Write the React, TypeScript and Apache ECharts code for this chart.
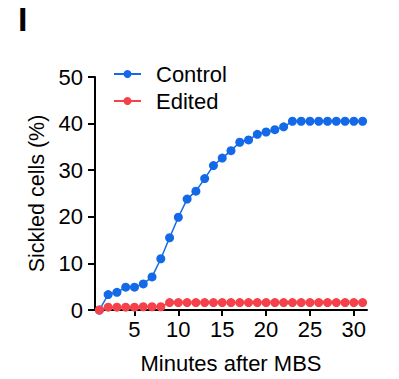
import React, { useEffect, useRef } from "react";
import * as echarts from "echarts";

const minutes = [1, 2, 3, 4, 5, 6, 7, 8, 9, 10, 11, 12, 13, 14, 15, 16, 17, 18, 19, 20, 21, 22, 23, 24, 25, 26, 27, 28, 29, 30, 31];
const controlValues = [0, 3.3, 3.8, 4.9, 4.9, 5.6, 7.1, 11.0, 15.5, 19.9, 23.8, 25.5, 28.2, 31.0, 32.6, 34.2, 36.0, 36.5, 37.7, 38.2, 38.7, 39.3, 40.5, 40.5, 40.5, 40.5, 40.5, 40.5, 40.5, 40.5, 40.5];
const editedValues = [0, 0.6, 0.6, 0.6, 0.6, 0.7, 0.7, 0.7, 1.6, 1.6, 1.6, 1.6, 1.6, 1.6, 1.6, 1.6, 1.6, 1.6, 1.6, 1.6, 1.6, 1.6, 1.6, 1.6, 1.6, 1.6, 1.6, 1.6, 1.6, 1.6, 1.6];
const xTicks = [5, 10, 15, 20, 25, 30];
const seriesNames = ["Control", "Edited"];
const colors = ["#1369e8", "#f4414a"];

const FONT = 'Arial, "Liberation Sans", Helvetica, sans-serif';

export default function App() {
  const ref = useRef<HTMLDivElement>(null);
  useEffect(() => {
    if (!ref.current) return;
    const chart = echarts.init(ref.current, null, { renderer: "svg" });
    const mk = (vals: number[]) => minutes.map((m, i) => [m, vals[i]]);
    chart.setOption({
      animation: false,
      textStyle: { fontFamily: FONT },
      graphic: [
        {
          type: "text",
          left: 18,
          top: 2,
          style: { text: "I", fontSize: 34, fontWeight: "bold", fill: "#000", fontFamily: FONT },
        },
      ],
      legend: {
        orient: "vertical",
        left: 113,
        top: 63,
        padding: 0,
        itemWidth: 27,
        itemHeight: 10,
        itemGap: 5,
        textStyle: { fontSize: 22, color: "#000", fontFamily: FONT, padding: [0, 0, 0, 10] },
        data: seriesNames,
      },
      grid: { left: 95, right: 32, top: 77, bottom: 69 },
      xAxis: {
        type: "value",
        min: 0.5,
        max: 31.5,
        splitLine: { show: false },
        axisLine: { lineStyle: { color: "#000", width: 2 } },
        axisTick: { customValues: xTicks, length: 6, lineStyle: { color: "#000", width: 2 } },
        axisLabel: { customValues: xTicks, fontSize: 22, color: "#000", margin: 8, fontFamily: FONT },
        name: "Minutes after MBS",
        nameLocation: "middle",
        nameGap: 42,
        nameTextStyle: { fontSize: 22, color: "#000", fontFamily: FONT },
      },
      yAxis: {
        type: "value",
        min: 0,
        max: 50,
        interval: 10,
        splitLine: { show: false },
        axisLine: { show: true, lineStyle: { color: "#000", width: 2 } },
        axisTick: { show: true, length: 7, lineStyle: { color: "#000", width: 2 } },
        axisLabel: { fontSize: 22, color: "#000", margin: 12, fontFamily: FONT },
        name: "Sickled cells (%)",
        nameLocation: "middle",
        nameGap: 45,
        nameTextStyle: { fontSize: 21.5, color: "#000", fontFamily: FONT },
      },
      series: [
        {
          name: seriesNames[0],
          type: "line",
          data: mk(controlValues),
          symbol: "circle",
          symbolSize: 9,
          itemStyle: { color: colors[0] },
          lineStyle: { color: colors[0], width: 1.5 },
          z: 3,
        },
        {
          name: seriesNames[1],
          type: "line",
          data: mk(editedValues),
          symbol: "circle",
          symbolSize: 9,
          itemStyle: { color: colors[1] },
          lineStyle: { color: colors[1], width: 1.5 },
          z: 4,
        },
      ],
    });
    return () => chart.dispose();
  }, []);
  return <div ref={ref} style={{ position: "absolute", left: 0, top: 0, width: 399, height: 379 }} />;
}
